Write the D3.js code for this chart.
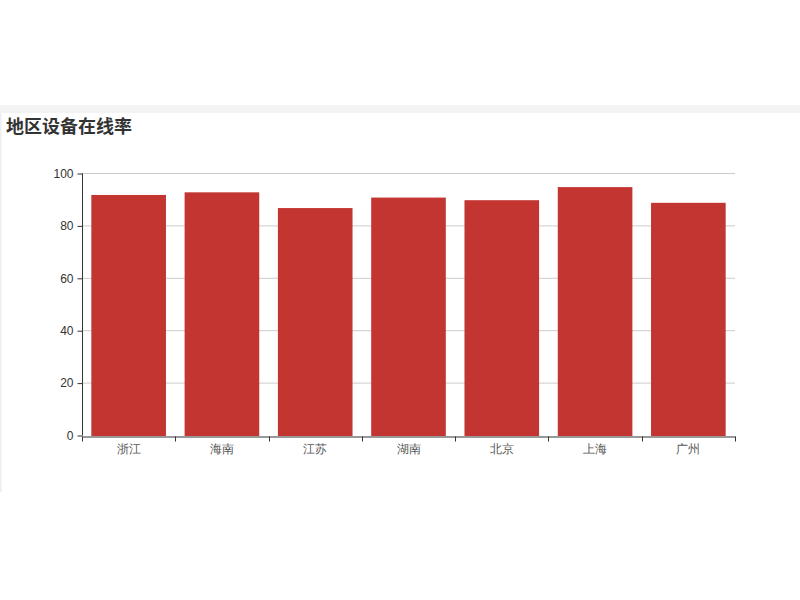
<!DOCTYPE html>
<html><head><meta charset="utf-8">
<script src="https://cdn.jsdelivr.net/npm/d3@7"></script>
<style>
body{margin:0;background:#fff;font-family:"Noto Sans CJK SC","Microsoft YaHei",sans-serif;}
</style></head><body>
<svg id="c" width="800" height="600"></svg>
<script>
const categories = ["浙江","海南","江苏","湖南","北京","上海","广州"];
const values = [92, 93, 87, 91, 90, 95, 89];
const yTicks = [0, 20, 40, 60, 80, 100];
const title = "地区设备在线率";

const svg = d3.select("#c");
svg.append("rect").attr("x",0).attr("y",105).attr("width",800).attr("height",8).attr("fill","#f3f3f3");
svg.append("rect").attr("x",0).attr("y",113).attr("width",1.5).attr("height",379).attr("fill","#eeeeee");
svg.append("text").attr("x",6).attr("y",133).attr("font-size",18).attr("font-weight","bold")
  .attr("fill","#333").text(title);

const m = {left:82, right:735, top:174, bottom:436};
const x = d3.scaleBand().domain(categories).range([m.left, m.right]).paddingInner(0.2).paddingOuter(0.1);
const y = d3.scaleLinear().domain([0,100]).range([m.bottom, m.top]);

const g = svg.append("g");
g.selectAll(".grid").data(yTicks.slice(1)).enter().append("line")
  .attr("x1",m.left).attr("x2",m.right).attr("y1",d=>y(d)-0.5).attr("y2",d=>y(d)-0.5)
  .attr("stroke","#ccc").attr("stroke-width",1);

g.selectAll(".bar").data(values).enter().append("rect")
  .attr("x",(d,i)=>x(categories[i])).attr("width",x.bandwidth())
  .attr("y",d=>y(d)).attr("height",d=>y(0)-y(d)).attr("fill","#c23531");

const yAxis = d3.axisLeft(y).tickValues(yTicks).tickSize(5).tickPadding(4);
const ya = svg.append("g").attr("transform",`translate(${m.left+0.5},-0.5)`).call(yAxis);
ya.select(".domain").attr("stroke","#333").attr("d",`M0,${m.bottom}V${m.top}`);
ya.selectAll(".tick line").attr("stroke","#333");
ya.selectAll("text").attr("fill","#333").attr("font-size",12).attr("font-family","sans-serif");

const xb = d3.scaleBand().domain(categories).range([m.left, m.right]);
const xAxis = d3.axisBottom(xb).tickSize(0).tickPadding(8);
const xa = svg.append("g").attr("transform",`translate(0,${m.bottom+0.5})`).call(xAxis);
xa.select(".domain").attr("stroke","#333");
xa.selectAll("text").attr("fill","#555").attr("font-size",12);
const bounds = categories.map(c=>xb(c)).concat([m.right]);
xa.selectAll(".bt").data(bounds).enter().append("line")
  .attr("x1",d=>Math.round(d)+0.5).attr("x2",d=>Math.round(d)+0.5).attr("y1",0).attr("y2",5).attr("stroke","#333");
</script>
</body></html>
